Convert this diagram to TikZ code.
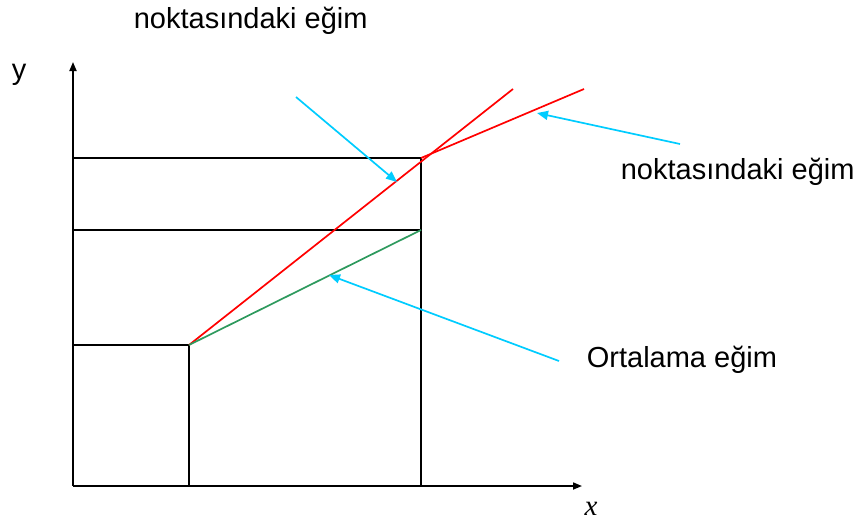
\documentclass[tikz,border=0pt]{standalone}
\usepackage{fontspec}
\setmainfont{Liberation Sans}
\newfontfamily\timesfont{Liberation Serif}
\usetikzlibrary{arrows.meta}
\definecolor{lineblack}{HTML}{000000}
\definecolor{slopered}{HTML}{FF0000}
\definecolor{slopegreen}{HTML}{2E9A5E}
\definecolor{pointercyan}{HTML}{00CCFF}

\begin{document}
\begin{tikzpicture}[x=1pt, y=-1pt, line width=1.7pt,
  axis/.style={draw=lineblack, -{Triangle[length=9pt,width=7pt]}},
  guide/.style={draw=lineblack},
  pointer/.style={draw=pointercyan, -{Triangle[length=11pt,width=9pt]}},
  lbl/.style={font=\fontsize{29}{34}\selectfont, inner sep=0pt}]
\useasboundingbox (0,0) rectangle (856,523);
% axes
\coordinate (o) at (73,486);
\coordinate (ytop) at (73,62);
\coordinate (xend) at (582,486);
\draw[axis] (o) -- (ytop);
\draw[axis] (o) -- (xend);
\node[lbl, anchor=base west] (ylbl) at (11,79) {y};
\node[font=\fontsize{29}{34}\selectfont\timesfont\itshape, inner sep=0pt, anchor=base] (xlbl) at (591,515) {x};
% points
\coordinate (p) at (189,345);
\coordinate (q) at (421,230);
\coordinate (r) at (421,158);
\coordinate (pbase) at (189,486);
\coordinate (rbase) at (421,486);
\coordinate (py) at (73,345);
\coordinate (qy) at (73,230);
\coordinate (ry) at (73,158);
\draw[guide] (py) -- (p) -- (pbase);
\draw[guide] (qy) -- (q);
\draw[guide] (ry) -- (r) -- (rbase);
% slopes
\coordinate (secend) at (513,89);
\coordinate (tanend) at (584,89);
\draw[slopered] (p) -- (secend);
\draw[slopered] (r) -- (tanend);
\draw[slopegreen] (p) -- (q);
% labels
\node[lbl, anchor=base west] (toplbl) at (133,28) {noktasındaki eğim};
\node[lbl, anchor=base west] (rightlbl) at (620,179) {noktasındaki eğim};
\node[lbl, anchor=base west] (avglbl) at (586,367) {Ortalama eğim};
% pointers
\coordinate (a1) at (296,97);
\coordinate (a1tip) at (397,182);
\coordinate (a2) at (680,144);
\coordinate (a2tip) at (537,113);
\coordinate (a3) at (559,361);
\coordinate (a3tip) at (329,275);
\draw[pointer] (a1) -- (a1tip);
\draw[pointer] (a2) -- (a2tip);
\draw[pointer] (a3) -- (a3tip);
\end{tikzpicture}
\end{document}
